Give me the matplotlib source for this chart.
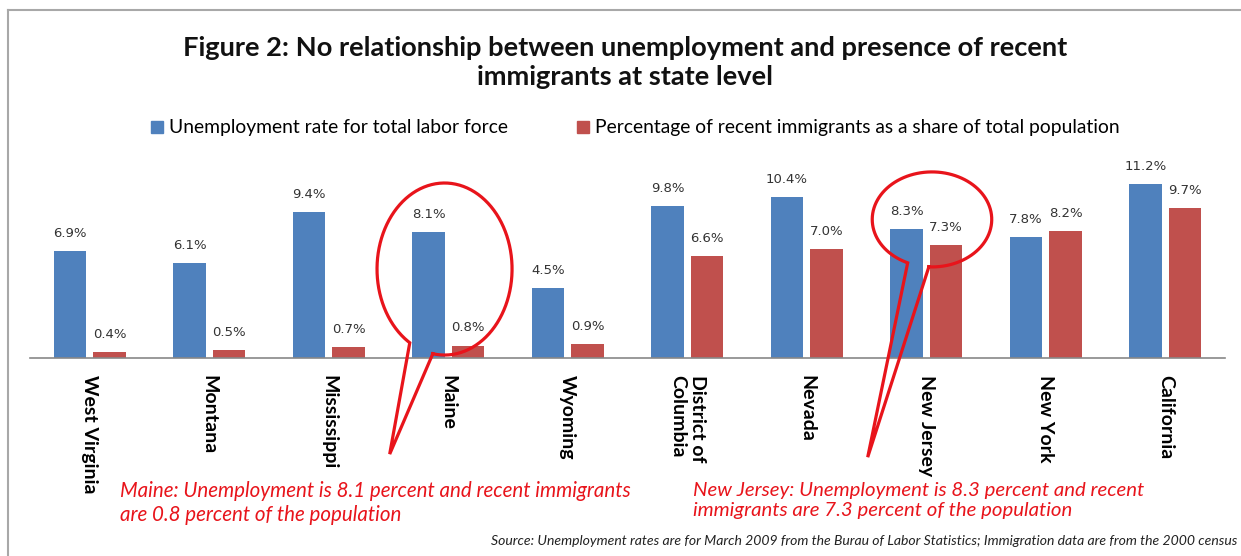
import numpy as np
import matplotlib
matplotlib.use('Agg')
import matplotlib.pyplot as plt
from matplotlib.lines import Line2D
from matplotlib.patches import Patch

# Data
states = ['West Virginia', 'Montana', 'Mississippi', 'Maine', 'Wyoming',
          'District of\nColumbia', 'Nevada', 'New Jersey', 'New York', 'California']
unemployment = [6.9, 6.1, 9.4, 8.1, 4.5, 9.8, 10.4, 8.3, 7.8, 11.2]
recent_immigrants = [0.4, 0.5, 0.7, 0.8, 0.9, 6.6, 7.0, 7.3, 8.2, 9.7]

series_names = ['Unemployment rate for total labor force',
                'Percentage of recent immigrants as a share of total population']
blue = '#4F81BD'
red = '#C0504D'
callout_red = '#E8141B'

fig = plt.figure(figsize=(12.41, 5.56), dpi=100)
ax = fig.add_axes([0.02417, 0.35612, 0.96294, 0.33453])

x = np.arange(len(states))
w = 0.27
off = 0.165
b1 = ax.bar(x - off, unemployment, w, color=blue, label=series_names[0])
b2 = ax.bar(x + off, recent_immigrants, w, color=red, label=series_names[1])

for bars, vals in ((b1, unemployment), (b2, recent_immigrants)):
    for rect, v in zip(bars, vals):
        ax.annotate(f'{v:.1f}%', (rect.get_x() + rect.get_width() / 2, v),
                    xytext=(0, 8), textcoords='offset points',
                    ha='center', va='bottom', fontsize=9.5,
                    family='DejaVu Sans', color='#333333')

ax.set_xlim(-0.5, len(states) - 0.5)
ax.set_ylim(0, 12)
ax.set_yticks([])
for s in ('top', 'right', 'left'):
    ax.spines[s].set_visible(False)
ax.spines['bottom'].set_color('#888888')
ax.spines['bottom'].set_linewidth(1.2)
ax.set_xticks(x)
ax.set_xticklabels(states, rotation=270, fontsize=14, fontweight='bold',
                   family='Lato', va='top', ha='center', multialignment='left')
ax.tick_params(axis='x', length=0, pad=12)


# Red callout: ellipse with a pointed tail
def callout(cx, cy, ew, eh, a_left, a_right, tip):
    t = np.radians(np.linspace(a_right, a_left + 360, 200))
    xs = list(cx + ew / 2 * np.cos(t)) + [tip[0]]
    ys = list(cy + eh / 2 * np.sin(t)) + [tip[1]]
    xs.append(xs[0])
    ys.append(ys[0])
    ax.plot(xs, ys, color=callout_red, lw=2.3, clip_on=False, zorder=5,
            solid_joinstyle='miter')


callout(2.969, 5.74, 1.13, 11.1, -121, -100, (2.51, -6.2))
callout(7.048, 8.94, 1.0, 6.13, -114, -93, (6.51, -6.4))

# Title and legend
fig.text(0.5036, 0.888, 'Figure 2: No relationship between unemployment and presence of recent\nimmigrants at state level',
         ha='center', va='center', fontsize=19.6, fontweight='bold', family='Lato',
         linespacing=1.25, color='#111111')

handles = [Patch(color=blue), Patch(color=red)]
fig.legend(handles, series_names, loc='center', bbox_to_anchor=(0.512, 0.7698),
           ncol=2, frameon=False, prop={'family': 'Lato', 'size': 13.9},
           handlelength=0.6, handleheight=0.6, handletextpad=0.3, columnspacing=3.6)

fig.text(0.0967, 0.0953, 'Maine: Unemployment is 8.1 percent and recent immigrants\nare 0.8 percent of the population',
         ha='left', va='center', fontsize=14.8, style='italic', family='Lato',
         color=callout_red, linespacing=1.2)
fig.text(0.5584, 0.0998, 'New Jersey: Unemployment is 8.3 percent and recent\nimmigrants are 7.3 percent of the population',
         ha='left', va='center', fontsize=14.7, style='italic', family='Lato',
         color=callout_red, linespacing=1.2)
fig.text(0.9968, 0.027, 'Source: Unemployment rates are for March 2009 from the Burau of Labor Statistics; '
         'Immigration data are from the 2000 census',
         ha='right', va='center', fontsize=10.1, style='italic', family='Lato', color='#222222')

# light frame along top and left edges
fig.add_artist(Line2D([8 / 1241, 1], [1 - 10 / 556, 1 - 10 / 556], color='#A8A8A8', lw=1.5))
fig.add_artist(Line2D([8 / 1241, 8 / 1241], [0, 1 - 10 / 556], color='#A8A8A8', lw=1.5))

fig.savefig('out.png', dpi=100)
